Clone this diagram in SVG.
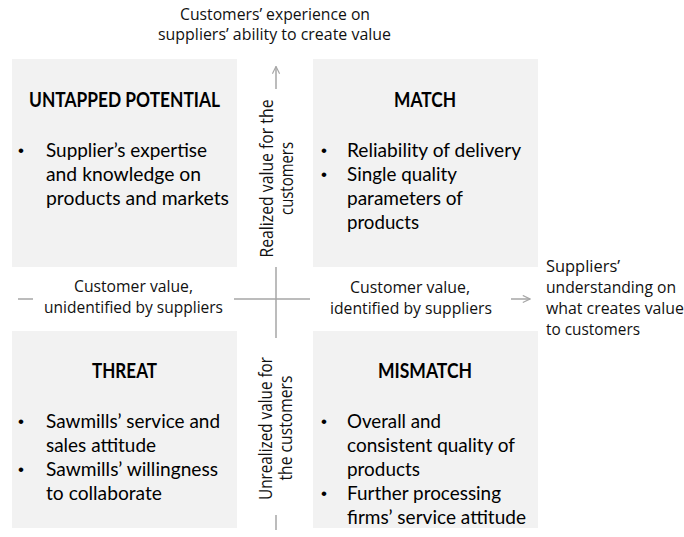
<svg xmlns="http://www.w3.org/2000/svg" width="684" height="537" viewBox="0 0 684 537">
<style>
.box{fill:#f2f2f2;}
.h{font-family:Lato,"Liberation Sans",sans-serif;font-weight:bold;font-size:20px;fill:#000;text-anchor:middle;}
.t{font-family:Lato,"Liberation Sans",sans-serif;font-size:20px;fill:#000;}
.b{font-family:"Liberation Sans",sans-serif;font-size:17px;fill:#000;text-anchor:middle;}
.a{font-family:"Open Sans","DejaVu Sans",sans-serif;font-size:16px;fill:#111;}
.v{font-size:18px;}
.m{text-anchor:middle;}
.ax{stroke:#a6a6a6;stroke-width:1.5;fill:none;}
</style>
<defs>
<marker id="arr" viewBox="0 0 10 10" refX="9" refY="5" markerWidth="9" markerHeight="9" orient="auto" markerUnits="userSpaceOnUse">
<path d="M1,1 L9,5 L1,9" fill="none" stroke="#a6a6a6" stroke-width="1.3"/>
</marker>
</defs>
<rect width="684" height="537" fill="#ffffff"/>

<g id="connectors">
<line class="ax" x1="276" y1="89" x2="276" y2="66.5" marker-end="url(#arr)"/>
<line class="ax" x1="276" y1="267" x2="276" y2="338"/>
<line class="ax" x1="276" y1="515" x2="276" y2="530"/>
<line class="ax" x1="18" y1="299" x2="33" y2="299"/>
<line class="ax" x1="234" y1="299" x2="310" y2="299"/>
<line class="ax" x1="511" y1="299" x2="530" y2="299" marker-end="url(#arr)"/>
</g>

<g id="untapped-potential">
<rect class="box" x="12" y="59" width="225" height="208"/>
<text class="h" x="124.5" y="107" textLength="191" lengthAdjust="spacingAndGlyphs">UNTAPPED POTENTIAL</text>
<text class="b" x="21" y="156">•</text>
<text class="t" x="46" y="157" textLength="161" lengthAdjust="spacingAndGlyphs">Supplier’s expertise</text>
<text class="t" x="46" y="181" textLength="155" lengthAdjust="spacingAndGlyphs">and knowledge on</text>
<text class="t" x="46" y="205" textLength="183" lengthAdjust="spacingAndGlyphs">products and markets</text>
</g>

<g id="match">
<rect class="box" x="313" y="59" width="225" height="208"/>
<text class="h" x="425" y="107" textLength="62" lengthAdjust="spacingAndGlyphs">MATCH</text>
<text class="b" x="324" y="156">•</text>
<text class="t" x="347" y="157" textLength="174" lengthAdjust="spacingAndGlyphs">Reliability of delivery</text>
<text class="b" x="324" y="180">•</text>
<text class="t" x="347" y="181" textLength="110" lengthAdjust="spacingAndGlyphs">Single quality</text>
<text class="t" x="347" y="205" textLength="116" lengthAdjust="spacingAndGlyphs">parameters of</text>
<text class="t" x="347" y="229" textLength="72" lengthAdjust="spacingAndGlyphs">products</text>
</g>

<g id="threat">
<rect class="box" x="12" y="331" width="225" height="197"/>
<text class="h" x="124.5" y="378" textLength="65" lengthAdjust="spacingAndGlyphs">THREAT</text>
<text class="b" x="21" y="427">•</text>
<text class="t" x="46" y="428" textLength="174" lengthAdjust="spacingAndGlyphs">Sawmills’ service and</text>
<text class="t" x="46" y="452" textLength="110" lengthAdjust="spacingAndGlyphs">sales attitude</text>
<text class="b" x="21" y="475">•</text>
<text class="t" x="46" y="476" textLength="172" lengthAdjust="spacingAndGlyphs">Sawmills’ willingness</text>
<text class="t" x="46" y="500" textLength="116" lengthAdjust="spacingAndGlyphs">to collaborate</text>
</g>

<g id="mismatch">
<rect class="box" x="313" y="331" width="225" height="197"/>
<text class="h" x="425" y="378" textLength="94" lengthAdjust="spacingAndGlyphs">MISMATCH</text>
<text class="b" x="324" y="427">•</text>
<text class="t" x="347" y="428" textLength="94" lengthAdjust="spacingAndGlyphs">Overall and</text>
<text class="t" x="347" y="452" textLength="168" lengthAdjust="spacingAndGlyphs">consistent quality of</text>
<text class="t" x="347" y="476" textLength="73" lengthAdjust="spacingAndGlyphs">products</text>
<text class="b" x="324" y="499">•</text>
<text class="t" x="347" y="500" textLength="154" lengthAdjust="spacingAndGlyphs">Further processing</text>
<text class="t" x="347" y="524" textLength="179" lengthAdjust="spacingAndGlyphs">firms’ service attitude</text>
</g>

<g id="axis-labels">
<text class="a m" x="275" y="20" textLength="190" lengthAdjust="spacingAndGlyphs">Customers’ experience on</text>
<text class="a m" x="274.5" y="40" textLength="233" lengthAdjust="spacingAndGlyphs">suppliers’ ability to create value</text>

<text class="a m v" transform="translate(273,178.5) rotate(-90)" x="0" y="0" textLength="158" lengthAdjust="spacingAndGlyphs">Realized value for the</text>
<text class="a m v" transform="translate(293,178.5) rotate(-90)" x="0" y="0" textLength="73" lengthAdjust="spacingAndGlyphs">customers</text>

<text class="a m v" transform="translate(272,428.5) rotate(-90)" x="0" y="0" textLength="143" lengthAdjust="spacingAndGlyphs">Unrealized value for</text>
<text class="a m v" transform="translate(292,428) rotate(-90)" x="0" y="0" textLength="105" lengthAdjust="spacingAndGlyphs">the customers</text>

<text class="a m" x="133.5" y="292" textLength="119" lengthAdjust="spacingAndGlyphs">Customer value,</text>
<text class="a m" x="133.5" y="313" textLength="179" lengthAdjust="spacingAndGlyphs">unidentified by suppliers</text>

<text class="a m" x="410" y="292.5" textLength="120" lengthAdjust="spacingAndGlyphs">Customer value,</text>
<text class="a m" x="411" y="314" textLength="162" lengthAdjust="spacingAndGlyphs">identified by suppliers</text>

<text class="a" x="546" y="272" textLength="74" lengthAdjust="spacingAndGlyphs">Suppliers’</text>
<text class="a" x="546" y="293" textLength="130" lengthAdjust="spacingAndGlyphs">understanding on</text>
<text class="a" x="546" y="314" textLength="138" lengthAdjust="spacingAndGlyphs">what creates value</text>
<text class="a" x="546" y="335" textLength="94" lengthAdjust="spacingAndGlyphs">to customers</text>
</g>
</svg>
